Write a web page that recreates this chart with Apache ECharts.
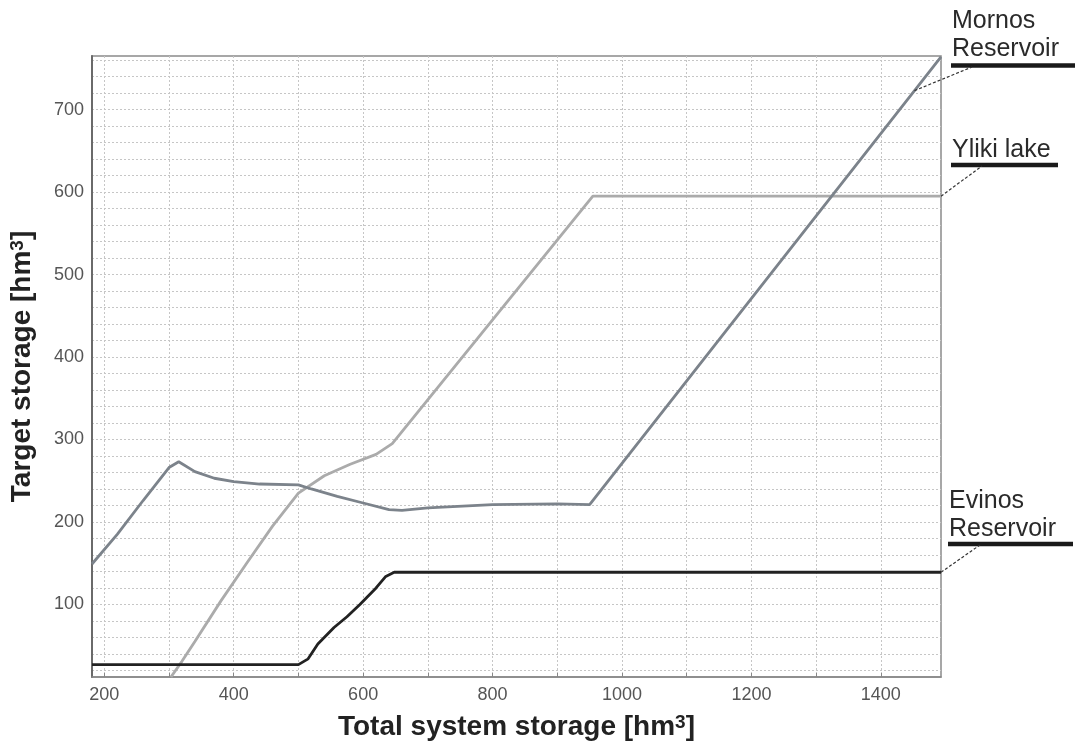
<!DOCTYPE html>
<html>
<head>
<meta charset="utf-8">
<script src="https://cdn.jsdelivr.net/npm/echarts@6/dist/echarts.min.js"></script>
<style>
  html, body { margin: 0; padding: 0; background: #fff; }
  #chart { width: 1084px; height: 749px; }
</style>
</head>
<body>
<div id="chart"></div>
<script>
// ---- Data ----
const mornosX = [181, 220, 260, 300, 315, 340, 370, 400, 440, 500, 520, 560, 600, 640, 660, 700, 800, 900, 950, 1493];
const mornosY = [149, 185, 226, 266, 273, 261, 253, 249, 246, 245, 240, 231, 223, 215, 214, 217, 221, 222, 221, 764];

const ylikiX = [303, 320, 340, 380, 420, 460, 500, 540, 580, 620, 645, 955, 1493];
const ylikiY = [12, 31, 55, 104, 150, 195, 235, 256, 270, 282, 295, 595, 595];

const evinosX = [181, 500, 515, 530, 555, 575, 595, 620, 635, 648, 1493];
const evinosY = [27, 27, 34, 52, 72, 85, 100, 120, 134, 139, 139];

// Axis ticks / labels
const xLabelValues = [200, 400, 600, 800, 1000, 1200, 1400];
const xGridValues = [200, 300, 400, 500, 600, 700, 800, 900, 1000, 1100, 1200, 1300, 1400];
const yLabelValues = [100, 200, 300, 400, 500, 600, 700];
const yGridValues = [20, 40, 60, 80, 100, 120, 140, 160, 180, 200, 220, 240, 260, 280, 300, 320, 340, 360, 380, 400,
                     420, 440, 460, 480, 500, 520, 540, 560, 580, 600, 620, 640, 660, 680, 700, 720, 740, 760];

const xAxisTitle = 'Total system storage [hm{sup|3}]';
const yAxisTitle = 'Target storage [hm{sup|3}]';

// Annotation anchors (data points on the lines) and labels
const annotations = [
  { lines: ['Mornos', 'Reservoir'], anchor: [1452, 723] },
  { lines: ['Yliki lake'], anchor: [1493, 595] },
  { lines: ['Evinos', 'Reservoir'], anchor: [1493, 139] }
];

const xMin = 181, xMax = 1493, yMin = 12, yMax = 765;

function zip(xs, ys) { return xs.map((x, i) => [x, ys[i]]); }

const chart = echarts.init(document.getElementById('chart'), null, { renderer: 'canvas' });

const FONT = '"Liberation Sans", Arial, sans-serif';
const gridLine = { show: true, lineStyle: { color: '#c6c6c6', width: 1, type: [2, 2] } };
const supRich = {
  sup: { fontSize: 19, fontWeight: 'bold', fontFamily: FONT, color: '#222', verticalAlign: 'top', lineHeight: 18 }
};

const option = {
  animation: false,
  backgroundColor: '#fff',
  grid: { left: 92, right: 143, top: 56, bottom: 72, show: true, borderColor: '#8a8a8a', borderWidth: 1.5, containLabel: false },
  xAxis: {
    type: 'value', min: xMin, max: xMax,
    name: xAxisTitle, nameLocation: 'middle', nameGap: 36,
    nameTextStyle: { fontSize: 28, fontWeight: 'bold', fontFamily: FONT, color: '#222', rich: supRich },
    axisLine: { show: true, onZero: false, lineStyle: { color: '#888', width: 1.5 } },
    axisTick: { show: true, inside: true, length: 4, customValues: xGridValues, lineStyle: { color: '#888' } },
    axisLabel: { customValues: xLabelValues, fontSize: 18, fontFamily: FONT, color: '#555', margin: 9,
                 formatter: v => String(v) },
    splitLine: gridLine
  },
  yAxis: {
    type: 'value', min: yMin, max: yMax,
    name: yAxisTitle, nameLocation: 'middle', nameGap: 56, nameRotate: 90,
    nameTextStyle: { fontSize: 28, fontWeight: 'bold', fontFamily: FONT, color: '#222', rich: supRich },
    axisLine: { show: true, onZero: false, lineStyle: { color: '#6a6a6a', width: 2 } },
    axisTick: { show: false, customValues: yGridValues },
    axisLabel: { customValues: yLabelValues, fontSize: 18, fontFamily: FONT, color: '#555', margin: 8,
                 formatter: v => String(v) },
    splitLine: gridLine
  },
  series: [
    { name: 'Mornos Reservoir', type: 'line', data: zip(mornosX, mornosY), showSymbol: false, clip: true,
      lineStyle: { color: '#7c838b', width: 2.8 }, z: 3 },
    { name: 'Yliki lake', type: 'line', data: zip(ylikiX, ylikiY), showSymbol: false, clip: true,
      lineStyle: { color: '#ababab', width: 2.8 }, z: 2 },
    { name: 'Evinos Reservoir', type: 'line', data: zip(evinosX, evinosY), showSymbol: false, clip: true,
      lineStyle: { color: '#222222', width: 2.8 }, z: 4 }
  ]
};
chart.setOption(option);

// Annotation labels with underline bars and dashed leader lines to the curves
const labelLayout = [
  { textX: 952, firstY: 22, barX1: 951, barX2: 1075, barY: 65.5, leadEnd: [972, 67] },
  { textX: 952, firstY: 151, barX1: 951, barX2: 1058, barY: 165, leadEnd: [982, 166] },
  { textX: 949, firstY: 502, barX1: 948, barX2: 1073, barY: 544, leadEnd: [980, 545] }
];
const graphics = [];
annotations.forEach((a, i) => {
  const L = labelLayout[i];
  a.lines.forEach((t, j) => {
    graphics.push({ type: 'text', left: L.textX, top: L.firstY + j * 28 - 13,
      style: { text: t, font: '25px ' + FONT, fill: '#2a2a2a' }, z: 10 });
  });
  graphics.push({ type: 'line', shape: { x1: L.barX1, y1: L.barY, x2: L.barX2, y2: L.barY },
    style: { stroke: '#1a1a1a', lineWidth: 4.5 }, z: 10 });
  const p = chart.convertToPixel({ gridIndex: 0 }, a.anchor);
  graphics.push({ type: 'line', shape: { x1: p[0], y1: p[1], x2: L.leadEnd[0], y2: L.leadEnd[1] },
    style: { stroke: '#333', lineWidth: 1.2, lineDash: [3, 2] }, z: 10 });
});
chart.setOption({ graphic: graphics });
</script>
</body>
</html>
